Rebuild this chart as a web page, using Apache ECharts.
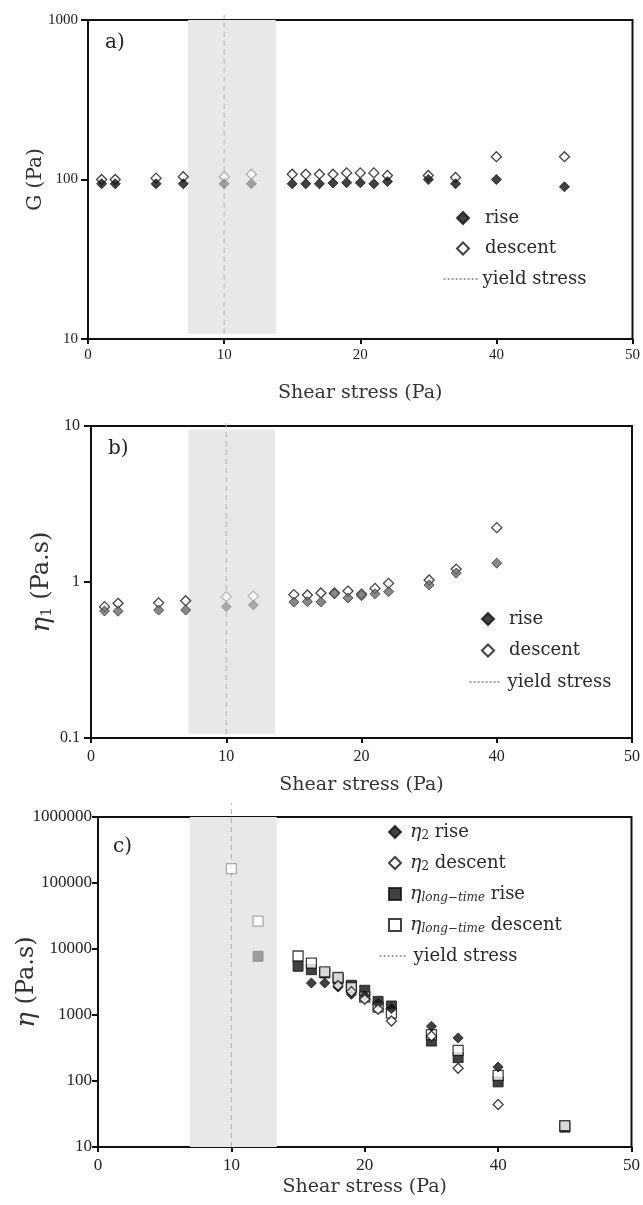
<!DOCTYPE html>
<html>
<head>
<meta charset="utf-8">
<title>Shear stress sweep</title>
<script src="https://cdn.jsdelivr.net/npm/echarts@6/dist/echarts.min.js"></script>
<style>
  html, body { margin: 0; padding: 0; background: #fff; }
  #chart { width: 643px; height: 1205px; }
</style>
</head>
<body>
<div id="chart"></div>
<script>
// x tick text as printed on the figure (one tick every 10 axis units)
const xTickLabels = ["0", "10", "20", "40", "50"];

// panels a) and b): stress steps
const stressAB = [1, 2, 5, 7, 10, 12, 15, 16, 17, 18, 19, 20, 21, 22, 25, 27, 30, 35];
// a) G (Pa)
const gRise = [94, 94, 94, 94, 94, 94, 94, 94, 94, 95, 95.5, 95.5, 94, 97, 100, 94, 100, 90];
const gDescent = [100, 100, 102, 104, 104, 108, 108, 108, 108, 108, 110, 110, 110, 106, 106, 103, 139, 139];
// b) eta1 (Pa.s)
const eta1Rise = [0.652, 0.65, 0.661, 0.661, 0.695, 0.712, 0.744, 0.748, 0.745, 0.84, 0.79, 0.817, 0.84, 0.867, 0.957, 1.14, 1.32, null];
const eta1Descent = [0.695, 0.73, 0.735, 0.759, 0.805, 0.812, 0.83, 0.825, 0.85, 0.85, 0.875, 0.837, 0.91, 0.98, 1.03, 1.21, 2.23, null];

// panel c): stress steps and viscosities (Pa.s)
const stressC = [10, 12, 15, 16, 17, 18, 19, 20, 21, 22, 25, 27, 30, 35];
const eta2Rise = [null, null, null, 3050, 3050, 2650, 2060, 1950, 1500, 1250, 675, 449, 163, null];
const eta2Descent = [null, null, null, null, null, 2800, 2250, 1730, 1220, 810, 480, 156, 44, null];
const longRise = [null, 7750, 5470, 4860, 4330, 3560, 2820, 2370, 1610, 1370, 403, 226, 97, 20];
const longDescent = [165000, 26500, 7830, 6130, 4500, 3700, 2600, 1870, 1320, 1070, 505, 292, 122, 21];

// yield stress and the grey band around it
const yieldStress = 10;
const bandA = [7.35, 13.8];
const bandB = [7.2, 13.6];
const bandC = [6.9, 13.4];

const serif = "Liberation Serif";
const dserif = "DejaVu Serif";
const ink = "#222";

const chart = echarts.init(document.getElementById("chart"));

const inBand = (x, band) => x >= band[0] && x <= band[1];

//build scatter points, greyed inside the band
function points(xs, ys, band, greyStyle) {
  return xs
    .map((x, i) =>
      ys[i] == null
        ? null
        : { value: [x, ys[i]], itemStyle: inBand(x, band) ? greyStyle : undefined }
    )
    .filter(Boolean);
}

function scatter(name, idx, data, symbol, itemStyle) {
  return {
    name: name,
    type: "scatter",
    xAxisIndex: idx,
    yAxisIndex: idx,
    symbol: symbol,
    symbolSize: 10,
    data: data,
    itemStyle: itemStyle,
    silent: true,
    z: 3,
  };
}

function bandSeries(idx, range, lo, hi) {
  return {
    type: "line",
    xAxisIndex: idx,
    yAxisIndex: idx,
    data: [],
    silent: true,
    z: 0,
    markArea: {
      silent: true,
      itemStyle: { color: "#e8e8e8" },
      data: [[{ coord: [range[0], lo] }, { coord: [range[1], hi] }]],
    },
  };
}

function yieldLine(idx, lo, hi) {
  return {
    name: "yield stress",
    type: "line",
    xAxisIndex: idx,
    yAxisIndex: idx,
    data: [
      [yieldStress, lo],
      [yieldStress, hi],
    ],
    symbol: "none",
    clip: false,
    silent: true,
    z: 1,
    itemStyle: { color: "#444" },
    lineStyle: { color: "#b0b0b0", width: 1, type: [5, 4] },
  };
}

const logLabel = (v) => String(Number(v.toPrecision(3)));

function xAxis(idx, fontSize, margin, nameGap) {
  return {
    gridIndex: idx,
    type: "value",
    min: 0,
    max: 40,
    interval: 10,
    axisLine: { lineStyle: { color: "#111", width: 2 } },
    axisTick: { length: 5, lineStyle: { color: "#111", width: 2 } },
    splitLine: { show: false },
    axisLabel: {
      formatter: (v) => xTickLabels[Math.round(v / 10)],
      fontFamily: serif,
      fontSize: fontSize,
      color: ink,
      margin: margin,
    },
    name: "Shear stress (Pa)",
    nameLocation: "middle",
    nameGap: nameGap,
    nameMoveOverlap: false,
    nameTextStyle: { fontFamily: dserif, fontSize: 19, color: "#333" },
  };
}

function yAxis(idx, min, max, fontSize, tickLen, margin, name, nameSize, nameGap) {
  return {
    gridIndex: idx,
    type: "log",
    logBase: 10,
    min: min,
    max: max,
    axisLine: { lineStyle: { color: "#111", width: 2 } },
    axisTick: { length: tickLen, lineStyle: { color: "#111", width: 2 } },
    minorTick: { show: false },
    splitLine: { show: false },
    axisLabel: {
      formatter: logLabel,
      fontFamily: serif,
      fontSize: fontSize,
      color: ink,
      margin: margin,
    },
    name: name,
    nameLocation: "middle",
    nameGap: nameGap,
    nameMoveOverlap: false,
    nameTextStyle: {
      fontFamily: dserif,
      fontSize: nameSize,
      color: "#333",
      rich: {
        eta: { fontFamily: dserif, fontStyle: "italic", fontSize: nameSize + 2, color: "#333" },
        sub: { fontFamily: dserif, fontSize: 15, color: "#333", lineHeight: 16, verticalAlign: "bottom" },
        txt: { fontFamily: dserif, fontSize: nameSize, color: "#333" },
      },
    },
  };
}

// legend labels with subscripts for panel c
const legendText = {
  "η2 rise": "{eta|η}{sub|2} rise",
  "η2 descent": "{eta|η}{sub|2} descent",
  "ηlong-time rise": "{eta|η}{subi|long−time} rise",
  "ηlong-time descent": "{eta|η}{subi|long−time} descent",
};

function legendTextStyle(padLeft) {
  return {
    fontFamily: dserif,
    fontSize: 18,
    lineHeight: 20,
    color: "#2a2a2a",
    padding: [0, 0, 0, padLeft],
    rich: {
      eta: { fontFamily: dserif, fontStyle: "italic", fontSize: 19, lineHeight: 20, color: "#2a2a2a" },
      sub: { fontFamily: dserif, fontSize: 12, lineHeight: 13, verticalAlign: "bottom", color: "#2a2a2a" },
      subi: { fontFamily: dserif, fontStyle: "italic", fontSize: 12, lineHeight: 13, verticalAlign: "bottom", color: "#2a2a2a" },
    },
  };
}

const yieldLegend = {
  name: "yield stress",
  itemStyle: { opacity: 0 },
  lineStyle: { color: "#444", width: 1.2, type: [2, 2] },
};

//marker legend (square icon box) and yield-stress legend (wide line icon)
function legend(left, top, itemWidth, itemGap, padLeft, names) {
  return {
    orient: "vertical",
    left: left,
    top: top,
    padding: 0,
    itemWidth: itemWidth,
    itemHeight: 12,
    itemGap: itemGap,
    selectedMode: false,
    data: names,
    formatter: (name) => legendText[name] || name,
    textStyle: legendTextStyle(padLeft),
  };
}

const panelTitle = (text, left, top) => ({
  text: text,
  left: left,
  top: top,
  padding: 0,
  textStyle: { fontFamily: dserif, fontSize: 20, fontWeight: "normal", color: ink },
});

const black = { color: "#111", borderColor: "#111", borderWidth: 1 };
const open = { color: "#fff", borderColor: "#111", borderWidth: 1.3 };

const option = {
  animation: false,
  backgroundColor: "#fff",
  title: [panelTitle("a)", 105, 33), panelTitle("b)", 108, 439), panelTitle("c)", 113, 837)],
  grid: [
    { left: 88, top: 20, width: 547, height: 319, show: true, borderColor: "#111", borderWidth: 2 },
    { left: 91, top: 426, width: 544, height: 312, show: true, borderColor: "#111", borderWidth: 2 },
    { left: 98, top: 817, width: 536, height: 330, show: true, borderColor: "#111", borderWidth: 2 },
  ],
  xAxis: [xAxis(0, 15, 9, 45), xAxis(1, 16, 11, 38), xAxis(2, 17, 10, 31)],
  yAxis: [
    yAxis(0, 10, 1000, 15, 7, 10, "G (Pa)", 20, 42),
    yAxis(1, 0.1, 10, 16, 7, 11, "{eta|η}{sub|1}{txt| (Pa.s)}", 24, 36),
    yAxis(2, 10, 1000000, 17, 6, 6, "{eta|η}{txt| (Pa.s)}", 24, 58),
  ],
  legend: [
    legend(456, 208, 12, 10.5, 11, ["rise", "descent"]),
    legend(443, 269, 34, 10, 0, [yieldLegend]),
    legend(481, 609, 12, 11.5, 10, ["rise", "descent"]),
    legend(469, 672, 31, 10, 2, [yieldLegend]),
    legend(388, 822, 12, 11, 4, ["η2 rise", "η2 descent", "ηlong-time rise", "ηlong-time descent"]),
    legend(379, 946, 26, 10, 3, [yieldLegend]),
  ],
  series: [
    // a)
    bandSeries(0, bandA, 10.8, 1000),
    yieldLine(0, 10.8, 1075),
    scatter("descent", 0, points(stressAB, gDescent, bandA, { color: "#fff", borderColor: "#a0a0a0" }), "diamond", open),
    scatter("rise", 0, points(stressAB, gRise, bandA, { color: "#8c8c8c", borderColor: "#8c8c8c" }), "diamond", black),
    // b)
    bandSeries(1, bandB, 0.106, 9.5),
    yieldLine(1, 0.106, 10.5),
    scatter("descent", 1, points(stressAB, eta1Descent, bandB, { color: "#fff", borderColor: "#a8a8a8" }), "diamond", open),
    scatter("rise", 1, points(stressAB, eta1Rise, bandB, { color: "#9a9a9a", borderColor: "#9a9a9a" }),
      "diamond", { color: "#6a6a6a", borderColor: "#333", borderWidth: 1 }),
    // c)
    bandSeries(2, bandC, 10, 1000000),
    yieldLine(2, 10, 1600000),
    scatter("ηlong-time rise", 2, points(stressC, longRise, bandC, { color: "#8a8a8a", borderColor: "#8a8a8a" }), "rect", black),
    scatter("ηlong-time descent", 2, points(stressC, longDescent, bandC, { color: "#fff", borderColor: "#9a9a9a" }), "rect", open),
    scatter("η2 rise", 2, points(stressC, eta2Rise, bandC, null), "diamond", black),
    scatter("η2 descent", 2, points(stressC, eta2Descent, bandC, null), "diamond", open),
  ],
};

chart.setOption(option);
</script>
</body>
</html>
